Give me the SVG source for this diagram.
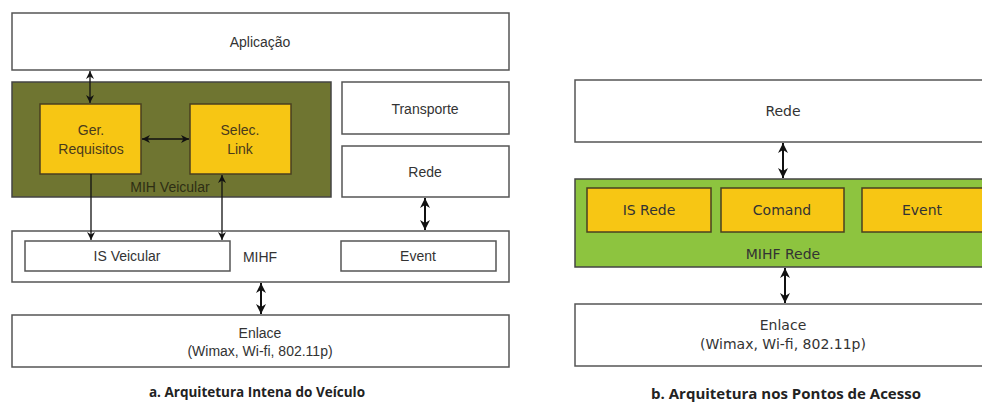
<svg xmlns="http://www.w3.org/2000/svg" width="982" height="405" viewBox="0 0 982 405">
<defs>
<style>
.box{fill:#fff;stroke:#555;stroke-width:1.5}
.olive{fill:#6f7531;stroke:#444;stroke-width:1.5}
.yel{fill:#f7c614;stroke:#4a3f20;stroke-width:1.5}
.grn{fill:#8dc43f;stroke:#444;stroke-width:1.5}
.ta{font-family:"Liberation Sans",Arial,sans-serif;font-size:14px;fill:#333;text-anchor:middle}
.ty{fill:#4a3a1c}
.tb{font-family:"DejaVu Sans",Verdana,sans-serif;font-size:14px;fill:#333;text-anchor:middle}
.cap{font-family:"Open Sans","Liberation Sans",sans-serif;font-weight:bold;fill:#222;text-anchor:middle}
.c{fill:none;stroke:#111;stroke-width:1.3}
.ct{fill:none;stroke:#111;stroke-width:2}
</style>
<marker id="ah" viewBox="0 0 10 10" refX="10" refY="5" markerWidth="8" markerHeight="8" markerUnits="userSpaceOnUse" orient="auto-start-reverse">
<path d="M0,0 L10,5 L0,10 L3,5 z" fill="#111"/>
</marker>
<marker id="ah2" viewBox="0 0 10 10" refX="10" refY="5" markerWidth="10" markerHeight="10" markerUnits="userSpaceOnUse" orient="auto-start-reverse">
<path d="M0,0 L10,5 L0,10 L3,5 z" fill="#111"/>
</marker>
</defs>

<g id="aplicacao"><rect class="box" x="12" y="13" width="497" height="57"/><text class="ta" x="260" y="47">Aplicação</text></g>
<g id="mih-veicular"><rect class="olive" x="12" y="82" width="319" height="115"/><text class="ta" x="170" y="192" style="fill:#2e2e14">MIH Veicular</text></g>
<g id="ger-requisitos"><rect class="yel" x="40" y="104" width="101" height="70"/><text class="ta ty" x="91" y="135">Ger.</text><text class="ta ty" x="91" y="154">Requisitos</text></g>
<g id="selec-link"><rect class="yel" x="190" y="104" width="101" height="70"/><text class="ta ty" x="240" y="135">Selec.</text><text class="ta ty" x="240" y="154">Link</text></g>
<g id="transporte"><rect class="box" x="342" y="82" width="167" height="52"/><text class="ta" x="425" y="114">Transporte</text></g>
<g id="rede-a"><rect class="box" x="342" y="146" width="167" height="51"/><text class="ta" x="425" y="177">Rede</text></g>
<g id="mihf"><rect class="box" x="12" y="231" width="497" height="51"/><text class="ta" x="260" y="262">MIHF</text></g>
<g id="is-veicular"><rect class="box" x="25" y="241" width="205" height="30"/><text class="ta" x="127" y="261">IS Veicular</text></g>
<g id="event-a"><rect class="box" x="341" y="241" width="155" height="30"/><text class="ta" x="418" y="261">Event</text></g>
<g id="enlace-a"><rect class="box" x="12" y="315" width="497" height="52"/><text class="ta" x="260" y="338">Enlace</text><text class="ta" x="260" y="356">(Wimax, Wi-fi, 802.11p)</text></g>
<text class="cap" x="257" y="397" style="font-size:13.5px">a. Arquitetura Intena do Veículo</text>

<g id="rede-b"><rect class="box" x="575" y="80" width="420" height="62"/><text class="tb" x="783" y="116">Rede</text></g>
<g id="mihf-rede"><rect class="grn" x="575" y="179" width="420" height="88"/><text class="tb" x="783" y="259">MIHF Rede</text></g>
<g id="is-rede"><rect class="yel" x="587" y="188" width="124" height="44"/><text class="tb ty" x="649" y="215">IS Rede</text></g>
<g id="comand"><rect class="yel" x="721" y="188" width="123" height="44"/><text class="tb ty" x="782" y="215">Comand</text></g>
<g id="event-b"><rect class="yel" x="862" y="188" width="130" height="44"/><text class="tb ty" x="922" y="215">Event</text></g>
<g id="enlace-b"><rect class="box" x="575" y="304" width="420" height="62"/><text class="tb" x="783" y="330">Enlace</text><text class="tb" x="783" y="349">(Wimax, Wi-fi, 802.11p)</text></g>
<text class="cap" x="786" y="399" style="font-size:15px">b. Arquitetura nos Pontos de Acesso</text>

<g id="connectors">
<line class="c" x1="90" y1="71" x2="90" y2="103" marker-start="url(#ah)" marker-end="url(#ah)"/>
<line class="c" x1="142" y1="139" x2="189" y2="139" marker-start="url(#ah)" marker-end="url(#ah)"/>
<line class="c" x1="91" y1="174" x2="91" y2="240" marker-end="url(#ah)"/>
<line class="c" x1="222" y1="175" x2="222" y2="240" marker-start="url(#ah)" marker-end="url(#ah)"/>
<line class="ct" x1="425" y1="198" x2="425" y2="230" marker-start="url(#ah2)" marker-end="url(#ah2)"/>
<line class="ct" x1="261" y1="283" x2="261" y2="314" marker-start="url(#ah2)" marker-end="url(#ah2)"/>
<line class="ct" x1="783" y1="143" x2="783" y2="178" marker-start="url(#ah2)" marker-end="url(#ah2)"/>
<line class="ct" x1="785" y1="268" x2="785" y2="303" marker-start="url(#ah2)" marker-end="url(#ah2)"/>
</g>
</svg>
